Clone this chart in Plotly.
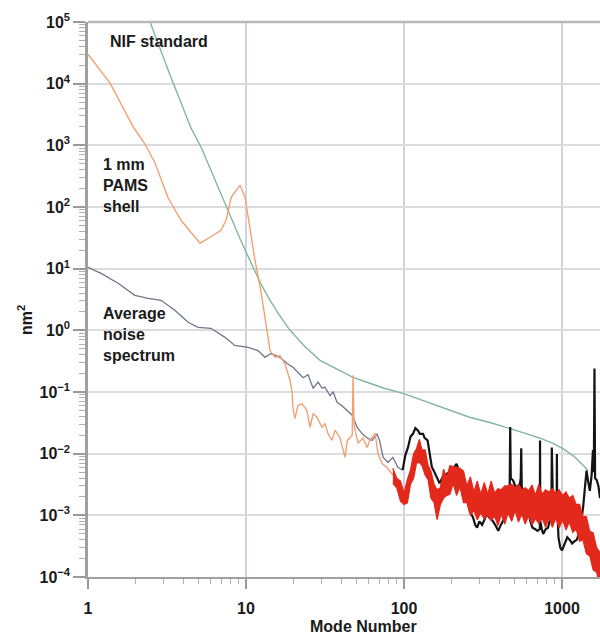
import plotly.graph_objects as go

# ---------------- data ----------------
nif_x = [2.3, 2.47, 3.3, 4.49, 5.2, 6.3, 7.69, 9.2, 10.8, 12.5, 14.2, 16.2, 19.0, 23.5, 29.4, 35.0, 41.0, 47.6, 60.0, 75.0, 98.6, 126, 180, 260, 350, 469, 600, 726, 870, 1014, 1200, 1399, 1460]
nif_y = [1.55e5, 1.0e5, 1.4e4, 1900, 930, 290, 88.7, 30, 12.2, 5.5, 3.07, 1.8, 1.0, 0.55, 0.326, 0.26, 0.209, 0.173, 0.14, 0.115, 0.095, 0.076, 0.055, 0.039, 0.032, 0.0257, 0.021, 0.0178, 0.0148, 0.0121, 0.0089, 0.006, 0.0053]

pams_x = [1.0, 1.38, 1.93, 2.3, 2.66, 3.2, 3.88, 5.12, 6.95, 7.48, 8.06, 9.17, 9.86, 10.3, 11.4, 12.4, 13.6, 14.2, 15.3, 16.4, 17.7, 19.0, 19.6, 19.8, 20.4, 21.3, 22.6, 24.3, 25.4, 26.6, 28.1, 30.3, 31.6, 33.0, 35.0, 36.6, 39.4, 42.3, 43.8, 45.6, 47.0, 47.6, 48.3, 49.0, 51.2, 55.0, 58.4, 60.8, 65.6, 68.5, 72.6, 78.0, 85.0]
pams_y = [3.0e4, 1.02e4, 2000, 1040, 513, 144, 61, 25.8, 42, 61, 144, 226, 144, 68, 13.7, 4.5, 1.0, 0.47, 0.365, 0.39, 0.28, 0.155, 0.095, 0.056, 0.037, 0.06, 0.065, 0.05, 0.0266, 0.0447, 0.039, 0.0266, 0.031, 0.0213, 0.0164, 0.024, 0.018, 0.0087, 0.0164, 0.018, 0.02, 0.186, 0.03, 0.024, 0.0148, 0.018, 0.0126, 0.0164, 0.0213, 0.01, 0.0069, 0.006, 0.0045]

# high-mode PAMS shell data: dense noisy band, given as its upper and lower envelope
pams_hi_x = [85, 90, 95, 100, 105, 110, 115, 120, 125, 130, 136, 142, 148, 155, 162, 170, 178, 186, 195, 205, 215, 226, 238, 250, 263, 277, 291, 306, 322, 339, 356, 374, 393, 413, 434, 456, 480, 505, 530, 557, 585, 615, 646, 679, 713, 749, 787, 827, 869, 913, 959, 1008, 1059, 1113, 1170, 1229, 1292, 1357, 1426, 1499, 1575, 1655, 1740]
pams_hi_upper = [0.0058, 0.0040, 0.0036, 0.0023, 0.0038, 0.0055, 0.0100, 0.012, 0.017, 0.0115, 0.0115, 0.0065, 0.0052, 0.0032, 0.0026, 0.0028, 0.0056, 0.0040, 0.0064, 0.0062, 0.0060, 0.0058, 0.0052, 0.0030, 0.0042, 0.0024, 0.0036, 0.0022, 0.0034, 0.0022, 0.0036, 0.0023, 0.0027, 0.0026, 0.0030, 0.0030, 0.0032, 0.0028, 0.0032, 0.0026, 0.0028, 0.0025, 0.0031, 0.0021, 0.0032, 0.0022, 0.0026, 0.0024, 0.0027, 0.0023, 0.0026, 0.0021, 0.0024, 0.0019, 0.0021, 0.0015, 0.0015, 0.00095, 0.00095, 0.00055, 0.00052, 0.0003, 0.00025]
pams_hi_lower = [0.0033, 0.0028, 0.0017, 0.0015, 0.0016, 0.0032, 0.0040, 0.0070, 0.0072, 0.0064, 0.0045, 0.0038, 0.0019, 0.0016, 0.00085, 0.0015, 0.0019, 0.0021, 0.0022, 0.0033, 0.0021, 0.0029, 0.0016, 0.0016, 0.0010, 0.0012, 0.00085, 0.0011, 0.00088, 0.0010, 0.00082, 0.00098, 0.00068, 0.00105, 0.00072, 0.0011, 0.00080, 0.00120, 0.00078, 0.00105, 0.00072, 0.0010, 0.00070, 0.00088, 0.00074, 0.00090, 0.00064, 0.00092, 0.00064, 0.00090, 0.00062, 0.00085, 0.00058, 0.00078, 0.00053, 0.00060, 0.00038, 0.00040, 0.00024, 0.00022, 0.00013, 0.00012, 0.00007]

noise_x = [1.0, 1.21, 1.55, 1.98, 2.4, 2.9, 3.56, 4.3, 4.97, 6.0, 7.36, 8.5, 10.3, 11.9, 13.2, 14.4, 16.4, 18.2, 19.9, 21.3, 23.0, 24.7, 26.6, 28.6, 30.3, 31.6, 34.0, 35.6, 37.7, 40.5, 43.7, 47.0, 50.6, 54.4, 58.4, 62.8, 67.4, 70.0, 73.8, 79.2, 85.0, 91.5, 98.0]
noise_y = [10.5, 8.4, 5.8, 3.7, 3.3, 3.07, 2.1, 1.35, 1.12, 1.08, 0.77, 0.57, 0.53, 0.47, 0.365, 0.42, 0.365, 0.29, 0.25, 0.21, 0.17, 0.19, 0.115, 0.145, 0.115, 0.12, 0.087, 0.1, 0.068, 0.06, 0.05, 0.042, 0.0266, 0.021, 0.018, 0.0164, 0.021, 0.0164, 0.0087, 0.0072, 0.0087, 0.006, 0.0054]

noise_hi_x = [98, 102, 106, 110, 114, 118, 122, 126, 132, 135, 141, 145, 150, 156, 162, 168, 175, 181, 188, 195, 203, 210, 215, 220, 228, 237, 245, 254, 264, 274, 282, 290, 300, 312, 324, 336, 348, 362, 378, 395, 410, 424, 440, 458, 466, 470, 474, 490, 505, 520, 535, 548, 552, 556, 565, 585, 610, 630, 650, 675, 700, 724, 726, 729, 745, 760, 790, 815, 835, 858, 862, 866, 875, 900, 925, 928, 932, 950, 975, 1000, 1040, 1080, 1120, 1160, 1200, 1240, 1300, 1360, 1400, 1430, 1465, 1500, 1540, 1570, 1590, 1605, 1620, 1660, 1700, 1740]
noise_hi_y = [0.0054, 0.0095, 0.0126, 0.019, 0.021, 0.026, 0.024, 0.021, 0.021, 0.018, 0.0164, 0.011, 0.0061, 0.005, 0.0041, 0.0033, 0.0041, 0.0045, 0.0048, 0.0048, 0.0055, 0.0061, 0.0068, 0.0058, 0.0045, 0.0033, 0.0022, 0.00155, 0.0011, 0.00091, 0.0007, 0.00063, 0.0008, 0.0007, 0.0009, 0.00107, 0.0009, 0.00083, 0.0007, 0.00056, 0.0007, 0.00083, 0.001, 0.0012, 0.002, 0.027, 0.004, 0.0037, 0.003, 0.0028, 0.0026, 0.004, 0.0122, 0.003, 0.0023, 0.0016, 0.0012, 0.0008, 0.00063, 0.0006, 0.00056, 0.0006, 0.0164, 0.0008, 0.0006, 0.0005, 0.0006, 0.00063, 0.0008, 0.0019, 0.0126, 0.0025, 0.0019, 0.0012, 0.0012, 0.0099, 0.0015, 0.00044, 0.0003, 0.00027, 0.00035, 0.00044, 0.0004, 0.00035, 0.00038, 0.0004, 0.00056, 0.00135, 0.003, 0.0053, 0.0035, 0.0025, 0.0045, 0.0114, 0.005, 0.24, 0.004, 0.0037, 0.003, 0.0019]

x_tickvals = [1, 10, 100, 1000]
x_ticktext = ["1", "10", "100", "1000"]
y_tickvals = [1e-4, 1e-3, 1e-2, 1e-1, 1e0, 1e1, 1e2, 1e3, 1e4, 1e5]
y_ticktext = ["10<sup>\u22124</sup>", "10<sup>\u22123</sup>", "10<sup>\u22122</sup>", "10<sup>\u22121</sup>",
              "10<sup>0</sup>", "10<sup>1</sup>", "10<sup>2</sup>", "10<sup>3</sup>", "10<sup>4</sup>", "10<sup>5</sup>"]

labels = ["NIF standard", "1 mm<br>PAMS<br>shell", "Average<br>noise<br>spectrum"]
x_title = "Mode Number"
y_title = "nm<sup>2</sup>"

# ---------------- figure ----------------
FONT = "Liberation Sans, Arial, Helvetica, sans-serif"

fig = go.Figure()
fig.add_trace(go.Scatter(x=nif_x, y=nif_y, mode="lines", line=dict(color="#82b79c", width=1.4), hoverinfo="skip"))
fig.add_trace(go.Scatter(x=noise_x, y=noise_y, mode="lines", line=dict(color="#6f7689", width=1.3), hoverinfo="skip"))
fig.add_trace(go.Scatter(x=pams_x, y=pams_y, mode="lines", line=dict(color="#f0a274", width=1.4), hoverinfo="skip"))
fig.add_trace(go.Scatter(x=noise_hi_x, y=noise_hi_y, mode="lines", line=dict(color="#141414", width=2.2), hoverinfo="skip"))
fig.add_trace(go.Scatter(x=pams_hi_x, y=pams_hi_upper, mode="lines", line=dict(color="#e3281c", width=1.2), hoverinfo="skip"))
fig.add_trace(go.Scatter(x=pams_hi_x, y=pams_hi_lower, mode="lines", line=dict(color="#e3281c", width=1.2),
                         fill="tonexty", fillcolor="#e3281c", hoverinfo="skip"))

minor_x = [m * 10 ** k for k in range(0, 4) for m in range(2, 10)]
minor_y = [m * 10.0 ** k for k in range(-4, 5) for m in range(2, 10)]

fig.update_xaxes(
    type="log", range=[0, 3.2405],
    tickmode="array", tickvals=x_tickvals, ticktext=x_ticktext,
    ticks="outside", ticklen=10, tickwidth=1.5, tickcolor="#9a9a9a",
    ticklabelstandoff=6,
    tickfont=dict(family=FONT, size=16, color="#1a1a1a", weight="bold"),
    showline=True, linecolor="#a0a0a0", linewidth=2,
    showgrid=True, gridcolor="#d2d3de", gridwidth=2,
    minor=dict(tickvals=minor_x, ticks="outside", ticklen=5, tickcolor="#b0b0b0", tickwidth=1, showgrid=False),
    zeroline=False,
)
fig.update_yaxes(
    type="log", range=[-4, 5],
    tickmode="array", tickvals=y_tickvals, ticktext=y_ticktext,
    ticks="outside", ticklen=12, tickwidth=1.5, tickcolor="#9a9a9a",
    tickfont=dict(family=FONT, size=16, color="#1a1a1a", weight="bold"),
    showline=True, linecolor="#a0a0a0", linewidth=2.5,
    showgrid=True, gridcolor="#dcdce0", gridwidth=1.5,
    minor=dict(tickvals=minor_y, ticks="outside", ticklen=6, tickcolor="#b0b0b0", tickwidth=1, showgrid=False),
    zeroline=False,
)

# white boxes behind the labels (between grid and traces)
for (x0, x1, y0, y1) in [(0.030, 0.245, 0.942, 0.986), (0.019, 0.122, 0.641, 0.771), (0.019, 0.172, 0.373, 0.497)]:
    fig.add_shape(type="rect", xref="paper", yref="paper", x0=x0, x1=x1, y0=y0, y1=y1,
                  fillcolor="white", line=dict(width=0), layer="between")

ann_font = dict(family=FONT, size=16, color="#1a1a1a", weight="bold")
fig.add_annotation(text=labels[0], xref="paper", yref="paper", x=0.039, y=0.964,
                   xanchor="left", yanchor="middle", showarrow=False, align="left", font=ann_font)
fig.add_annotation(text=labels[1], xref="paper", yref="paper", x=0.025, y=0.706,
                   xanchor="left", yanchor="middle", showarrow=False, align="left", font=ann_font)
fig.add_annotation(text=labels[2], xref="paper", yref="paper", x=0.025, y=0.437,
                   xanchor="left", yanchor="middle", showarrow=False, align="left", font=ann_font)
fig.add_annotation(text=x_title, xref="paper", yref="paper", x=0.539, y=-0.09,
                   xanchor="center", yanchor="middle", showarrow=False,
                   font=dict(family=FONT, size=16, color="#1a1a1a", weight="bold"))
fig.add_annotation(text=y_title, xref="paper", yref="paper", x=-0.123, y=0.463,
                   xanchor="center", yanchor="middle", showarrow=False, textangle=-90,
                   font=dict(family=FONT, size=16, color="#1a1a1a", weight="bold"))

fig.add_shape(type="line", xref="paper", yref="paper", x0=0, x1=1, y0=1, y1=1,
              line=dict(color="#b8b8b8", width=2.5))

fig.update_layout(
    width=600, height=638,
    margin=dict(l=88, r=0, t=22, b=61),
    paper_bgcolor="white", plot_bgcolor="white",
    showlegend=False,
)

fig.write_html("out.html")
